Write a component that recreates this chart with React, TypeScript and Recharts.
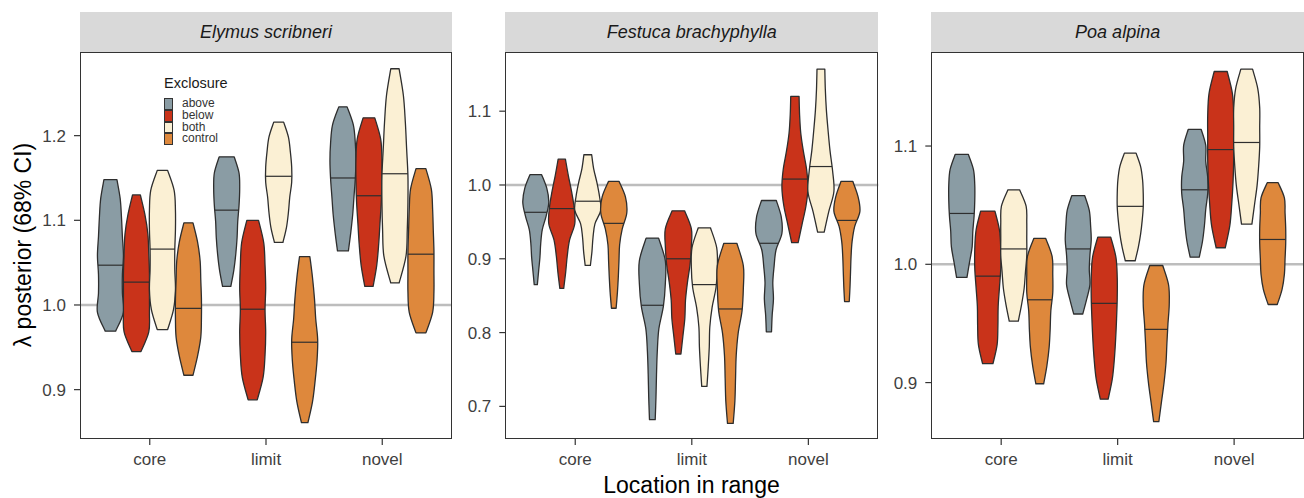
import { Bar, ComposedChart, ReferenceLine, XAxis, YAxis } from 'recharts';

// lo / med / hi of each posterior, dens = violin width from top (hi) to bottom (lo)
type Violin = { lo: number; med: number; hi: number; dens: number[] };

const locations = ['core', 'limit', 'novel'];
const exclosures = ['above', 'below', 'both', 'control'];
const exclosureColors = ['#8a9ca4', '#c9331a', '#fbf0d4', '#de883c'];

const elymusAbove: Violin[] = [
    { lo: 0.969, med: 1.047, hi: 1.148, dens: [0.5, 0.75, 0.85, 0.92, 1.0, 0.92, 0.92, 1.0, 0.4] },
    { lo: 1.022, med: 1.112, hi: 1.175, dens: [0.58, 0.95, 1.0, 0.95, 0.85, 0.8, 0.7, 0.55, 0.32] },
    { lo: 1.064, med: 1.15, hi: 1.234, dens: [0.32, 0.8, 0.95, 1.0, 0.95, 0.85, 0.75, 0.6, 0.42] },
];
const elymusBelow: Violin[] = [
    { lo: 0.945, med: 1.027, hi: 1.13, dens: [0.3, 0.65, 0.88, 0.95, 1.0, 1.0, 1.0, 0.95, 0.35] },
    { lo: 0.888, med: 0.995, hi: 1.1, dens: [0.45, 0.85, 0.95, 1.0, 0.95, 1.0, 0.95, 0.8, 0.35] },
    { lo: 1.022, med: 1.129, hi: 1.221, dens: [0.45, 0.9, 1.0, 1.0, 0.95, 0.85, 0.75, 0.6, 0.32] },
];
const elymusBoth: Violin[] = [
    { lo: 0.971, med: 1.066, hi: 1.159, dens: [0.4, 0.9, 1.0, 1.0, 0.95, 0.95, 1.0, 0.85, 0.4] },
    { lo: 1.074, med: 1.152, hi: 1.216, dens: [0.38, 0.75, 0.9, 1.0, 1.0, 0.85, 0.75, 0.6, 0.33] },
    { lo: 1.026, med: 1.155, hi: 1.279, dens: [0.32, 0.65, 0.8, 0.9, 1.0, 1.0, 0.95, 0.85, 0.32] },
];
const elymusControl: Violin[] = [
    { lo: 0.917, med: 0.996, hi: 1.097, dens: [0.35, 0.7, 0.9, 0.95, 1.0, 1.0, 0.95, 0.7, 0.35] },
    { lo: 0.861, med: 0.956, hi: 1.057, dens: [0.4, 0.6, 0.75, 0.85, 1.0, 0.95, 0.8, 0.6, 0.25] },
    { lo: 0.967, med: 1.06, hi: 1.161, dens: [0.38, 0.8, 0.9, 0.95, 1.0, 1.0, 1.0, 0.9, 0.38] },
];

const festucaAbove: Violin[] = [
    { lo: 0.865, med: 0.963, hi: 1.014, dens: [0.45, 0.85, 1.0, 0.8, 0.5, 0.38, 0.32, 0.22, 0.12] },
    { lo: 0.682, med: 0.837, hi: 0.928, dens: [0.48, 1.0, 1.0, 0.85, 0.5, 0.38, 0.32, 0.28, 0.22] },
    { lo: 0.801, med: 0.921, hi: 0.979, dens: [0.57, 0.95, 1.0, 0.55, 0.4, 0.3, 0.35, 0.25, 0.2] },
];
const festucaBelow: Violin[] = [
    { lo: 0.86, med: 0.968, hi: 1.035, dens: [0.28, 0.5, 0.75, 0.95, 1.0, 0.6, 0.42, 0.3, 0.15] },
    { lo: 0.771, med: 0.9, hi: 0.965, dens: [0.48, 1.0, 1.0, 0.9, 0.7, 0.55, 0.5, 0.35, 0.2] },
    { lo: 0.922, med: 1.008, hi: 1.12, dens: [0.32, 0.36, 0.45, 0.65, 0.9, 1.0, 0.85, 0.55, 0.25] },
];
const festucaBoth: Violin[] = [
    { lo: 0.891, med: 0.978, hi: 1.041, dens: [0.3, 0.45, 0.7, 0.9, 1.0, 0.55, 0.4, 0.32, 0.2] },
    { lo: 0.727, med: 0.865, hi: 0.942, dens: [0.47, 0.95, 1.0, 0.9, 0.6, 0.42, 0.38, 0.3, 0.2] },
    { lo: 0.936, med: 1.025, hi: 1.157, dens: [0.3, 0.34, 0.42, 0.55, 0.7, 0.9, 1.0, 0.6, 0.25] },
];
const festucaControl: Violin[] = [
    { lo: 0.833, med: 0.948, hi: 1.005, dens: [0.4, 0.9, 1.0, 0.65, 0.45, 0.4, 0.35, 0.28, 0.18] },
    { lo: 0.677, med: 0.832, hi: 0.921, dens: [0.5, 1.0, 1.0, 0.9, 0.6, 0.45, 0.4, 0.35, 0.22] },
    { lo: 0.842, med: 0.952, hi: 1.005, dens: [0.45, 0.85, 1.0, 0.6, 0.4, 0.32, 0.28, 0.24, 0.18] },
];

const poaAbove: Violin[] = [
    { lo: 0.989, med: 1.043, hi: 1.093, dens: [0.5, 0.9, 1.0, 1.0, 0.95, 0.85, 0.8, 0.6, 0.4] },
    { lo: 0.958, med: 1.013, hi: 1.058, dens: [0.5, 0.85, 0.95, 1.0, 0.9, 0.85, 0.9, 0.65, 0.35] },
    { lo: 1.006, med: 1.063, hi: 1.114, dens: [0.5, 0.85, 0.85, 1.0, 1.0, 0.85, 0.75, 0.6, 0.35] },
];
const poaBelow: Violin[] = [
    { lo: 0.916, med: 0.99, hi: 1.045, dens: [0.55, 0.9, 1.0, 1.0, 0.9, 0.8, 0.78, 0.72, 0.4] },
    { lo: 0.886, med: 0.967, hi: 1.023, dens: [0.5, 0.9, 1.0, 1.0, 0.95, 0.88, 0.78, 0.62, 0.3] },
    { lo: 1.014, med: 1.097, hi: 1.163, dens: [0.5, 0.9, 1.0, 1.0, 1.0, 0.95, 0.85, 0.7, 0.35] },
];
const poaBoth: Violin[] = [
    { lo: 0.952, med: 1.013, hi: 1.063, dens: [0.45, 0.95, 1.0, 1.0, 1.0, 0.9, 0.8, 0.6, 0.35] },
    { lo: 1.003, med: 1.049, hi: 1.094, dens: [0.45, 0.8, 0.95, 1.0, 1.0, 0.92, 0.8, 0.62, 0.38] },
    { lo: 1.034, med: 1.103, hi: 1.165, dens: [0.45, 0.85, 1.0, 1.0, 1.0, 0.92, 0.8, 0.6, 0.4] },
];
const poaControl: Violin[] = [
    { lo: 0.899, med: 0.97, hi: 1.022, dens: [0.45, 0.95, 1.0, 1.0, 0.85, 0.8, 0.72, 0.55, 0.3] },
    { lo: 0.867, med: 0.945, hi: 0.999, dens: [0.5, 0.95, 1.0, 0.9, 0.82, 0.75, 0.6, 0.4, 0.2] },
    { lo: 0.966, med: 1.021, hi: 1.069, dens: [0.42, 0.9, 0.95, 1.0, 1.0, 0.95, 0.9, 0.72, 0.35] },
];

const panels = [
    {
        title: 'Elymus scribneri',
        series: [elymusAbove, elymusBelow, elymusBoth, elymusControl],
        domain: [0.8417, 1.2988],
        ticks: [0.9, 1.0, 1.1, 1.2],
        left: 0, width: 460, plotLeft: 80, plotRight: 452,
    },
    {
        title: 'Festuca brachyphylla',
        series: [festucaAbove, festucaBelow, festucaBoth, festucaControl],
        domain: [0.6558, 1.1802],
        ticks: [0.7, 0.8, 0.9, 1.0, 1.1],
        left: 460, width: 430, plotLeft: 505.3, plotRight: 878.3,
    },
    {
        title: 'Poa alpina',
        series: [poaAbove, poaBelow, poaBoth, poaControl],
        domain: [0.8523, 1.1795],
        ticks: [0.9, 1.0, 1.1],
        left: 885, width: 419, plotLeft: 931.3, plotRight: 1304,
    },
];

const PLOT_TOP = 52;
const PLOT_BOTTOM = 439;
const FONT = '"Liberation Sans", Arial, Helvetica, sans-serif';
const TICK_COLOR = '#3f3f3f';

function smoothSide(pts: number[][]) {
    let d = '';
    for (let i = 0; i < pts.length - 1; i++) {
        const p0 = pts[Math.max(i - 1, 0)];
        const p1 = pts[i];
        const p2 = pts[i + 1];
        const p3 = pts[Math.min(i + 2, pts.length - 1)];
        const c1x = p1[0] + (p2[0] - p0[0]) / 6;
        const c1y = p1[1] + (p2[1] - p0[1]) / 6;
        const c2x = p2[0] - (p3[0] - p1[0]) / 6;
        const c2y = p2[1] - (p3[1] - p1[1]) / 6;
        d += ` C${c1x},${c1y} ${c2x},${c2y} ${p2[0]},${p2[1]}`;
    }
    return d;
}

function ViolinShape(props: any) {
    const { x, y, width, height, fill, v } = props;
    if (!v || height == null) return null;
    const cx = x + width / 2;
    const hw = width / 2;
    const n = v.dens.length;
    const right = v.dens.map((d: number, i: number) => [cx + d * hw, y + (height * i) / (n - 1)]);
    const left = v.dens.map((d: number, i: number) => [cx - d * hw, y + (height * i) / (n - 1)]).reverse();
    const path =
        `M${right[0][0]},${right[0][1]}` +
        smoothSide(right) +
        ` L${left[0][0]},${left[0][1]}` +
        smoothSide(left) +
        ' Z';

    // median line width follows the outline
    const t = ((v.hi - v.med) / (v.hi - v.lo)) * (n - 1);
    const k = Math.min(Math.floor(t), n - 2);
    const dm = v.dens[k] + (v.dens[k + 1] - v.dens[k]) * (t - k);
    const my = y + (height * (v.hi - v.med)) / (v.hi - v.lo);

    return (
        <g>
            <path d={path} fill={fill} stroke="#2e2e2e" strokeWidth={1.3} strokeLinejoin="round" />
            <line x1={cx - dm * hw} x2={cx + dm * hw} y1={my} y2={my} stroke="#2e2e2e" strokeWidth={1.2} />
        </g>
    );
}

function Panel({ p, showLegend }: { p: (typeof panels)[number]; showLegend?: boolean }) {
    const rows = locations.map((loc, i) => {
        const row: Record<string, any> = { loc };
        exclosures.forEach((g, k) => {
            row[g] = [p.series[k][i].lo, p.series[k][i].hi];
        });
        return row;
    });
    const plotW = p.plotRight - p.plotLeft;
    const pad = plotW * 0.03125;
    const margin = {
        top: PLOT_TOP,
        right: p.left + p.width - p.plotRight,
        bottom: 498 - PLOT_BOTTOM - 30,
        left: p.plotLeft - p.left - 40,
    };
    const layer = { position: 'absolute' as const, left: 0, top: 0 };

    return (
        <div style={{ position: 'absolute', left: p.left, top: 0, width: p.width, height: 498 }}>
            <div
                style={{
                    position: 'absolute',
                    left: p.plotLeft - p.left,
                    top: 12,
                    width: plotW,
                    height: 40,
                    background: '#d9d9d9',
                    color: '#1a1a1a',
                    fontStyle: 'italic',
                    fontSize: 18,
                    lineHeight: '40px',
                    textAlign: 'center',
                }}
            >
                {p.title}
            </div>
            {/* back layer: the y = 1 reference line sits behind the violins */}
            <div style={layer}>
                <ComposedChart width={p.width} height={498} data={rows} margin={margin}>
                    <XAxis dataKey="loc" height={30} padding={{ left: pad, right: pad }} axisLine={false} tickLine={false} tick={false} />
                    <YAxis type="number" width={40} domain={p.domain} ticks={p.ticks} allowDataOverflow axisLine={false} tickLine={false} tick={false} />
                    <ReferenceLine y={1} stroke="#bdbdbd" strokeWidth={2.5} />
                </ComposedChart>
            </div>
            <div style={layer}>
                <ComposedChart width={p.width} height={498} data={rows} margin={margin} barCategoryGap="5%" barGap={0}>
                    <XAxis
                        dataKey="loc"
                        height={30}
                        padding={{ left: pad, right: pad }}
                        axisLine={false}
                        tickSize={6}
                        tickMargin={8}
                        tickLine={{ stroke: '#333333', strokeWidth: 1.2 }}
                        tick={{ fill: TICK_COLOR, fontSize: 17 }}
                    />
                    <YAxis
                        type="number"
                        width={40}
                        domain={p.domain}
                        ticks={p.ticks}
                        allowDataOverflow
                        axisLine={false}
                        tickSize={6}
                        tickMargin={8}
                        tickLine={{ stroke: '#333333', strokeWidth: 1.2 }}
                        tick={{ fill: TICK_COLOR, fontSize: 17 }}
                        tickFormatter={(v: number) => v.toFixed(1)}
                    />
                    {exclosures.map((g, k) => (
                        <Bar
                            key={g}
                            dataKey={g}
                            fill={exclosureColors[k]}
                            isAnimationActive={false}
                            shape={(sp: any) => <ViolinShape {...sp} fill={exclosureColors[k]} v={p.series[k][sp.index]} />}
                        />
                    ))}
                </ComposedChart>
            </div>
            <div
                style={{
                    position: 'absolute',
                    left: p.plotLeft - p.left,
                    top: PLOT_TOP,
                    width: plotW,
                    height: PLOT_BOTTOM - PLOT_TOP,
                    border: '1.2px solid #333333',
                    boxSizing: 'border-box',
                    pointerEvents: 'none',
                }}
            />
            {showLegend && (
                <div style={{ position: 'absolute', left: 164, top: 75, color: '#1a1a1a' }}>
                    <div style={{ fontSize: 14.5, lineHeight: '16px', marginBottom: 7 }}>Exclosure</div>
                    {exclosures.map((g, k) => (
                        <div key={g} style={{ display: 'flex', alignItems: 'center', height: 11.8 }}>
                            <div
                                style={{
                                    width: 9,
                                    height: 11.8,
                                    background: exclosureColors[k],
                                    border: '0.8px solid #333333',
                                    boxSizing: 'border-box',
                                }}
                            />
                            <span style={{ fontSize: 12, lineHeight: '11.8px', marginLeft: 9, color: '#333333' }}>{g}</span>
                        </div>
                    ))}
                </div>
            )}
        </div>
    );
}

export default function App() {
    return (
        <div
            style={{
                position: 'absolute',
                left: 0,
                top: 0,
                width: 1304,
                height: 498,
                background: '#ffffff',
                overflow: 'hidden',
                fontFamily: FONT,
            }}
        >
            {panels.map((p, i) => (
                <Panel key={p.title} p={p} showLegend={i === 0} />
            ))}
            <div
                style={{
                    position: 'absolute',
                    left: 23 - 150,
                    top: 245 - 14,
                    width: 300,
                    height: 28,
                    lineHeight: '28px',
                    fontSize: 23,
                    textAlign: 'center',
                    transform: 'rotate(-90deg)',
                    color: '#000000',
                }}
            >
                λ posterior (68% CI)
            </div>
            <div
                style={{
                    position: 'absolute',
                    left: 691.5 - 200,
                    top: 472,
                    width: 400,
                    height: 26,
                    lineHeight: '26px',
                    fontSize: 23,
                    textAlign: 'center',
                    color: '#000000',
                }}
            >
                Location in range
            </div>
        </div>
    );
}
